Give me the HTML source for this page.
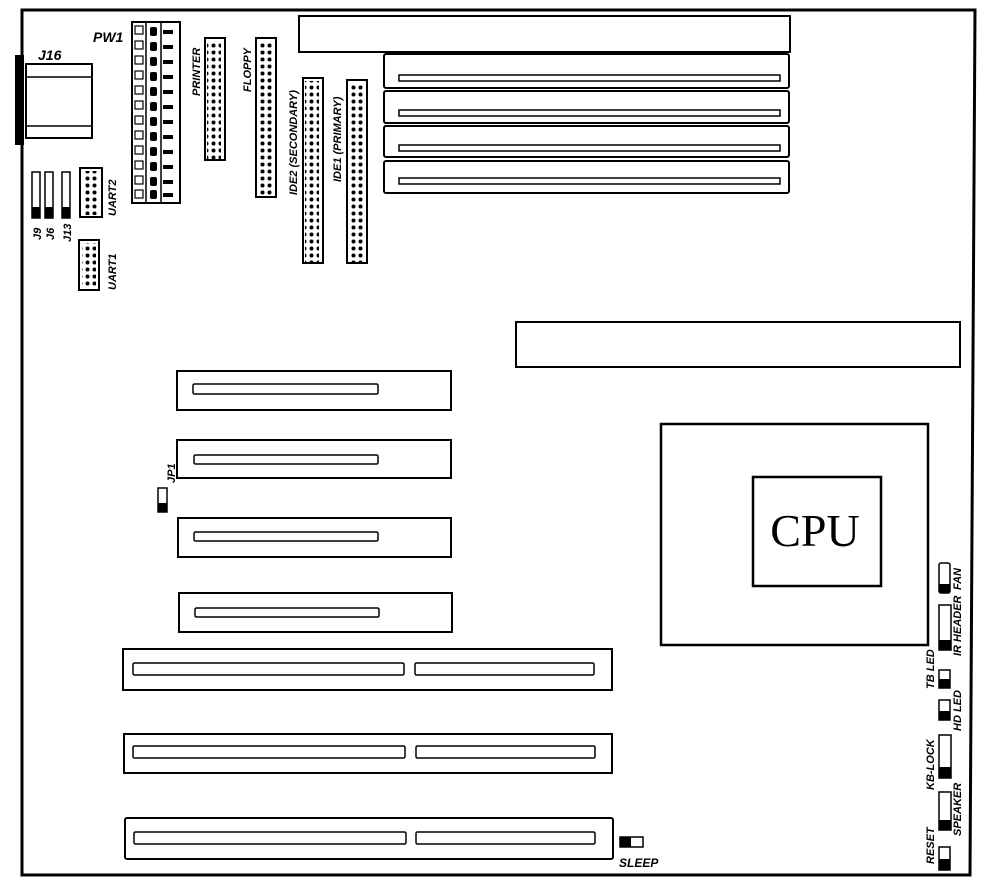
<!DOCTYPE html>
<html><head><meta charset="utf-8"><style>
html,body{margin:0;padding:0;background:#fff}
svg{display:block}
text{font-family:"Liberation Sans",sans-serif;font-weight:bold;font-style:italic;fill:#000}
</style></head><body>
<svg width="984" height="886" viewBox="0 0 984 886" xmlns="http://www.w3.org/2000/svg">
<defs>
<pattern id="pins" x="0" y="0" width="7" height="7" patternUnits="userSpaceOnUse">
<circle cx="3.5" cy="3.5" r="2" fill="#000"/>
</pattern>
</defs>
<g fill="none" stroke="#000">
<path d="M22 875 L22 10 L975 10 L970 875 Z" stroke-width="3"/>
<rect x="15" y="55" width="9" height="90" fill="#000" stroke="none"/>
<rect x="26" y="64" width="66" height="74" stroke-width="2"/>
<line x1="26" y1="77" x2="92" y2="77" stroke-width="1.5"/>
<line x1="26" y1="126" x2="92" y2="126" stroke-width="1.5"/>
<rect x="299" y="16" width="491" height="36" stroke-width="2"/>
<rect x="384" y="54" width="405" height="34" rx="2" stroke-width="2"/>
<rect x="399" y="75" width="381" height="6" stroke-width="1.5"/>
<rect x="384" y="91" width="405" height="32" rx="2" stroke-width="2"/>
<rect x="399" y="110" width="381" height="6" stroke-width="1.5"/>
<rect x="384" y="126" width="405" height="31" rx="2" stroke-width="2"/>
<rect x="399" y="145" width="381" height="6" stroke-width="1.5"/>
<rect x="384" y="161" width="405" height="32" rx="2" stroke-width="2"/>
<rect x="399" y="178" width="381" height="6" stroke-width="1.5"/>
<rect x="516" y="322" width="444" height="45" stroke-width="2"/>
<rect x="661" y="424" width="267" height="221" stroke-width="2.5"/>
<rect x="753" y="477" width="128" height="109" stroke-width="2.5"/>
<rect x="177" y="371" width="274" height="39" stroke-width="2"/>
<rect x="193" y="384" width="185" height="10" rx="1.5" stroke-width="1.5"/>
<rect x="177" y="440" width="274" height="38" stroke-width="2"/>
<rect x="194" y="455" width="184" height="9" rx="1.5" stroke-width="1.5"/>
<rect x="178" y="518" width="273" height="39" stroke-width="2"/>
<rect x="194" y="532" width="184" height="9" rx="1.5" stroke-width="1.5"/>
<rect x="179" y="593" width="273" height="39" stroke-width="2"/>
<rect x="195" y="608" width="184" height="9" rx="1.5" stroke-width="1.5"/>
<rect x="123" y="649" width="489" height="41" stroke-width="2"/>
<rect x="133" y="663" width="271" height="12" rx="1.5" stroke-width="1.5"/>
<rect x="415" y="663" width="179" height="12" rx="1.5" stroke-width="1.5"/>
<rect x="124" y="734" width="488" height="39" stroke-width="2"/>
<rect x="133" y="746" width="272" height="12" rx="1.5" stroke-width="1.5"/>
<rect x="416" y="746" width="179" height="12" rx="1.5" stroke-width="1.5"/>
<rect x="125" y="818" width="488" height="41" rx="2" stroke-width="2"/>
<rect x="134" y="832" width="272" height="12" rx="1.5" stroke-width="1.5"/>
<rect x="416" y="832" width="179" height="12" rx="1.5" stroke-width="1.5"/>
<rect x="205" y="38" width="20" height="122" stroke-width="2"/>
<rect x="256" y="38" width="20" height="159" stroke-width="2"/>
<rect x="303" y="78" width="20" height="185" stroke-width="2"/>
<rect x="347" y="80" width="20" height="183" stroke-width="2"/>
<rect x="80" y="168" width="22" height="49" stroke-width="2"/>
<rect x="79" y="240" width="20" height="50" stroke-width="2"/>
<rect x="132" y="22" width="48" height="181" stroke-width="2"/>
<line x1="146" y1="22" x2="146" y2="203" stroke-width="1.5"/>
<line x1="161" y1="22" x2="161" y2="203" stroke-width="1.5"/>
<rect x="32" y="172" width="8" height="46" stroke-width="1.5"/>
<rect x="45" y="172" width="8" height="46" stroke-width="1.5"/>
<rect x="62" y="172" width="8" height="46" stroke-width="1.5"/>
<rect x="158" y="488" width="9" height="24" stroke-width="1.5"/>
<rect x="620" y="837" width="23" height="10" stroke-width="1.5"/>
<rect x="939" y="563" width="11" height="30" rx="2" stroke-width="1.5"/>
<rect x="939" y="605" width="12" height="45" stroke-width="1.5"/>
<rect x="939" y="670" width="11" height="18" stroke-width="1.5"/>
<rect x="939" y="700" width="11" height="20" stroke-width="1.5"/>
<rect x="939" y="735" width="12" height="43" stroke-width="1.5"/>
<rect x="939" y="792" width="12" height="38" stroke-width="1.5"/>
<rect x="939" y="847" width="11" height="23" stroke-width="1.5"/>
</g>
<g fill="url(#pins)">
<rect x="207" y="41" width="14" height="119"/>
<rect x="258" y="41" width="14" height="154"/>
<rect x="305" y="81" width="14" height="182"/>
<rect x="349" y="83" width="14" height="180"/>
<rect x="83" y="171" width="14" height="44"/>
<rect x="82" y="243" width="14" height="45"/>
</g>
<g fill="#000">
<rect x="32" y="207" width="8" height="11"/>
<rect x="45" y="207" width="8" height="11"/>
<rect x="62" y="207" width="8" height="11"/>
<rect x="158" y="503" width="9" height="9"/>
<rect x="620" y="837" width="11" height="10"/>
<rect x="939" y="584" width="11" height="9"/>
<rect x="939" y="640" width="12" height="10"/>
<rect x="939" y="679" width="11" height="9"/>
<rect x="939" y="711" width="11" height="9"/>
<rect x="939" y="767" width="12" height="11"/>
<rect x="939" y="820" width="12" height="10"/>
<rect x="939" y="859" width="11" height="11"/>
</g>
<g fill="none" stroke="#000" stroke-width="1.2">
<rect x="135" y="26" width="8" height="8"/><rect x="135" y="41" width="8" height="8"/>
<rect x="135" y="56" width="8" height="8"/><rect x="135" y="71" width="8" height="8"/>
<rect x="135" y="86" width="8" height="8"/><rect x="135" y="101" width="8" height="8"/>
<rect x="135" y="116" width="8" height="8"/><rect x="135" y="131" width="8" height="8"/>
<rect x="135" y="146" width="8" height="8"/><rect x="135" y="161" width="8" height="8"/>
<rect x="135" y="176" width="8" height="8"/><rect x="135" y="190" width="8" height="8"/>
</g>
<g fill="#000">
<rect x="150" y="27" width="7" height="9" rx="2"/><rect x="150" y="42" width="7" height="9" rx="2"/>
<rect x="150" y="57" width="7" height="9" rx="2"/><rect x="150" y="72" width="7" height="9" rx="2"/>
<rect x="150" y="87" width="7" height="9" rx="2"/><rect x="150" y="102" width="7" height="9" rx="2"/>
<rect x="150" y="117" width="7" height="9" rx="2"/><rect x="150" y="132" width="7" height="9" rx="2"/>
<rect x="150" y="147" width="7" height="9" rx="2"/><rect x="150" y="162" width="7" height="9" rx="2"/>
<rect x="150" y="177" width="7" height="9" rx="2"/><rect x="150" y="190" width="7" height="9" rx="2"/>
<rect x="163" y="30" width="10" height="4"/><rect x="163" y="45" width="10" height="4"/>
<rect x="163" y="60" width="10" height="4"/><rect x="163" y="75" width="10" height="4"/>
<rect x="163" y="90" width="10" height="4"/><rect x="163" y="105" width="10" height="4"/>
<rect x="163" y="120" width="10" height="4"/><rect x="163" y="135" width="10" height="4"/>
<rect x="163" y="150" width="10" height="4"/><rect x="163" y="165" width="10" height="4"/>
<rect x="163" y="180" width="10" height="4"/><rect x="163" y="193" width="10" height="4"/>
</g>
<text x="815" y="546" text-anchor="middle" style="font-family:'Liberation Serif',serif;font-style:normal;font-weight:normal;font-size:46px">CPU</text>
<text x="38" y="60" font-size="14">J16</text>
<text x="93" y="42" font-size="14">PW1</text>
<g font-size="11">
<text transform="translate(200,96) rotate(-90)">PRINTER</text>
<text transform="translate(251,92) rotate(-90)">FLOPPY</text>
<text transform="translate(297,195) rotate(-90)">IDE2 (SECONDARY)</text>
<text transform="translate(341,182) rotate(-90)">IDE1 (PRIMARY)</text>
<text transform="translate(116,216) rotate(-90)">UART2</text>
<text transform="translate(116,290) rotate(-90)">UART1</text>
<text transform="translate(41,240) rotate(-90)">J9</text>
<text transform="translate(54,240) rotate(-90)">J6</text>
<text transform="translate(71,242) rotate(-90)">J13</text>
<text transform="translate(175,483) rotate(-90)">JP1</text>
<text x="619" y="867" font-size="12">SLEEP</text>
<text transform="translate(961,590) rotate(-90)">FAN</text>
<text transform="translate(961,656) rotate(-90)">IR HEADER</text>
<text transform="translate(934,689) rotate(-90)">TB LED</text>
<text transform="translate(961,731) rotate(-90)">HD LED</text>
<text transform="translate(934,790) rotate(-90)">KB-LOCK</text>
<text transform="translate(961,836) rotate(-90)">SPEAKER</text>
<text transform="translate(934,864) rotate(-90)">RESET</text>
</g>
</svg>
</body></html>
